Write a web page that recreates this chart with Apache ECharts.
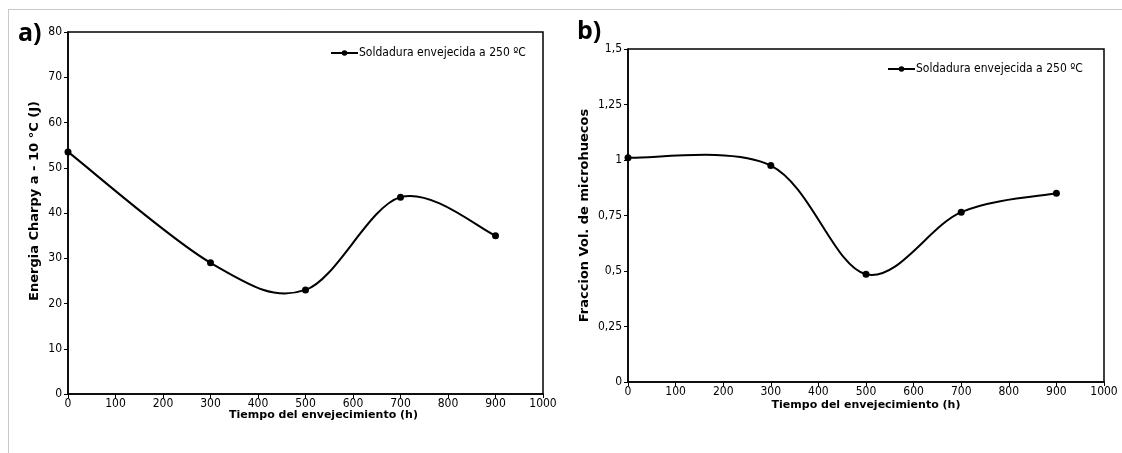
<!DOCTYPE html>
<html>
<head>
<meta charset="utf-8">
<script src="https://cdn.jsdelivr.net/npm/echarts@6/dist/echarts.min.js"></script>
<style>
html,body{margin:0;padding:0;background:#fff;}
#chart{width:1122px;height:453px;}
</style>
</head>
<body>
<div id="chart"></div>
<script>
// ---- data ----
const hours = [0, 300, 500, 700, 900];
const charpy = [53.5, 29, 23, 43.5, 35];
const fraction = [1.01, 0.975, 0.485, 0.765, 0.85];
const seriesName = 'Soldadura envejecida a 250 ºC';
const xTitle = 'Tiempo del envejecimiento (h)';
const yTitleA = 'Energia Charpy a - 10 °C (J)';
const yTitleB = 'Fraccion Vol. de microhuecos';

const narrow = "'Liberation Sans Narrow', 'DejaVu Sans Condensed', 'Liberation Sans', sans-serif";
const bold = "'DejaVu Sans', 'Liberation Sans', sans-serif";

function pairs(xs, ys){ return xs.map((x,i)=>[x, ys[i]]); }

// Excel-like smoothed curve, drawn through the data via the axis scales (api.coord)
function smoothRender(xs, ys){
  return function(params, api){
    if (params.dataIndex !== 0) return null;
    const P = xs.map((x,i)=>api.coord([x, ys[i]]));
    const n = P.length, k = 1/6, children = [];
    for (let i = 0; i < n-1; i++){
      const p0 = P[Math.max(i-1,0)], p1 = P[i], p2 = P[i+1], p3 = P[Math.min(i+2,n-1)];
      children.push({type:'bezierCurve', shape:{
        x1:p1[0], y1:p1[1], x2:p2[0], y2:p2[1],
        cpx1:p1[0]+(p2[0]-p0[0])*k, cpy1:p1[1]+(p2[1]-p0[1])*k,
        cpx2:p2[0]-(p3[0]-p1[0])*k, cpy2:p2[1]-(p3[1]-p1[1])*k},
        style:{stroke:'#000', lineWidth:2, fill:null}});
    }
    return {type:'group', children};
  };
}

const chart = echarts.init(document.getElementById('chart'), null, {renderer:'canvas'});

const xAxisBase = (gi, gap, pad) => ({
  type:'value', gridIndex:gi, min:0, max:1000, interval:100,
  axisLine:{show:true, lineStyle:{color:'#000', width:1.5}},
  axisTick:{show:true, length:4, lineStyle:{color:'#000'}},
  axisLabel:{color:'#000', fontFamily:narrow, fontSize:12, margin:4, formatter:v=>String(v)},
  splitLine:{show:false},
  name:xTitle, nameLocation:'middle', nameGap:gap, nameMoveOverlap:false,
  nameTextStyle:{color:'#000', fontFamily:bold, fontWeight:'bold', fontSize:11, padding:pad}
});

const yAxisBase = (gi, max, interval, title, gap, fs, pad, fmt) => ({
  type:'value', gridIndex:gi, min:0, max:max, interval:interval,
  axisLine:{show:true, lineStyle:{color:'#000', width:1.5}},
  axisTick:{show:true, length:4, lineStyle:{color:'#000'}},
  axisLabel:{color:'#000', fontFamily:narrow, fontSize:12, margin:6, formatter:fmt},
  splitLine:{show:false},
  name:title, nameLocation:'middle', nameGap:gap, nameRotate:90, nameMoveOverlap:false,
  nameTextStyle:{color:'#000', fontFamily:bold, fontWeight:'bold', fontSize:fs, padding:pad}
});

const pointSeries = (i, ys) => ({
  name:seriesName, type:'line', xAxisIndex:i, yAxisIndex:i, data:pairs(hours, ys),
  symbol:'circle', symbolSize:7, z:3,
  lineStyle:{color:'#000', width:2, opacity:0}, itemStyle:{color:'#000'}
});
const curveSeries = (i, ys) => ({
  name:seriesName, type:'custom', xAxisIndex:i, yAxisIndex:i, data:pairs(hours, ys),
  encode:{x:0, y:1}, renderItem:smoothRender(hours, ys), z:2
});

const legendBase = (left, top) => ({
  left:left, top:top, itemWidth:27, itemHeight:7, data:[seriesName], selectedMode:false,
  lineStyle:{color:'#000', width:2, opacity:1},
  itemStyle:{color:'#000'},
  textStyle:{color:'#000', fontFamily:narrow, fontSize:12, padding:[0,0,0,-4]}
});

chart.setOption({
  animation:false,
  backgroundColor:'#fff',
  grid:[
    {left:68, top:32, right:579, bottom:59, show:true, borderColor:'#000', borderWidth:1.5},
    {left:628, top:49, right:18, bottom:71, show:true, borderColor:'#000', borderWidth:1.5}
  ],
  legend:[ legendBase(325, 42), legendBase(882, 58) ],
  xAxis:[ xAxisBase(0, 16, [0,0,0,36]), xAxisBase(1, 18, 0) ],
  yAxis:[
    yAxisBase(0, 80, 10, yTitleA, 27, 13, [0,0,0,24], v=>String(v)),
    yAxisBase(1, 1.5, 0.25, yTitleB, 37, 13, 0, v=>String(+v.toFixed(2)).replace('.', ','))
  ],
  series:[
    pointSeries(0, charpy), curveSeries(0, charpy),
    pointSeries(1, fraction), curveSeries(1, fraction)
  ],
  graphic:[
    {type:'line', shape:{x1:8, y1:9.5, x2:1122, y2:9.5}, style:{stroke:'#c8c8c8', lineWidth:1}},
    {type:'line', shape:{x1:8.5, y1:9, x2:8.5, y2:453}, style:{stroke:'#c8c8c8', lineWidth:1}},
    {type:'text', left:18, top:21, style:{text:'a)', font:"bold 25px 'Open Sans', sans-serif", fill:'#000'}},
    {type:'text', left:577, top:19, style:{text:'b)', font:"bold 25px 'Open Sans', sans-serif", fill:'#000'}}
  ]
});
</script>
</body>
</html>
